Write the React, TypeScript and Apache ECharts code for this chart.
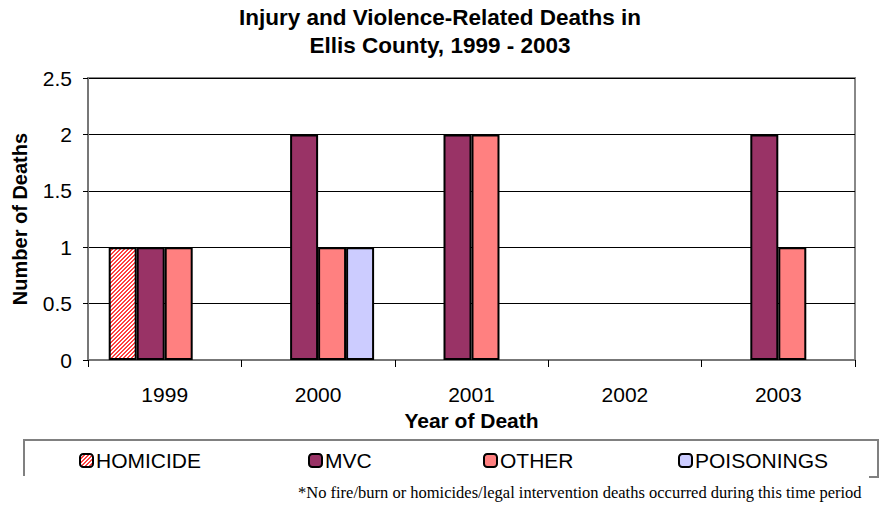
import React, { useEffect, useRef } from "react";
import * as echarts from "echarts";

const years = ["1999", "2000", "2001", "2002", "2003"];
const homicide = [1, 0, 0, 0, 0];
const mvc = [1, 2, 2, 0, 2];
const other = [1, 1, 2, 0, 1];
const poisonings = [0, 1, 0, 0, 0];
const yTicks = { min: 0, max: 2.5, interval: 0.5 };

const FONT = "'Liberation Sans', Arial, sans-serif";

function makeHatch() {
  const c = document.createElement("canvas");
  c.width = 4;
  c.height = 4;
  const ctx = c.getContext("2d")!;
  ctx.fillStyle = "#ffffff";
  ctx.fillRect(0, 0, 4, 4);
  ctx.fillStyle = "#ff4040";
  for (let y = 0; y < 4; y++) {
    for (let x = 0; x < 4; x++) {
      if ((x + y) % 4 === 0 || (x + y) % 4 === 1) ctx.fillRect(x, y, 1, 1);
    }
  }
  return c;
}

const nz = (a: number[]) => a.map((v) => (v === 0 ? "-" : v));

export default function App() {
  const ref = useRef<HTMLDivElement>(null);
  useEffect(() => {
    if (!ref.current) return;
    const chart = echarts.init(ref.current, null, { renderer: "svg" });
    const hatch = makeHatch();
    const bar = (name: string, data: number[], color: any) => ({
      name,
      type: "bar",
      data: nz(data),
      barGap: "0%",
      barCategoryGap: "27%",
      itemStyle: { color, borderColor: "#000", borderWidth: 2 },
    });
    const legend = (name: string, left: number) => ({
      data: [name],
      left,
      top: 450,
      itemWidth: 13,
      itemHeight: 13,
      itemGap: 3,
      padding: 0,
      selectedMode: false,
      textStyle: { fontFamily: FONT, fontSize: 21, color: "#000", padding: [0, 0, 0, -2] },
    });
    chart.setOption({
      animation: false,
      backgroundColor: "#fff",
      title: {
        text: "Injury and Violence-Related Deaths in\nEllis County, 1999 - 2003",
        left: 440,
        textAlign: "center",
        top: 3,
        padding: 0,
        textStyle: { fontFamily: FONT, fontSize: 22.5, fontWeight: "bold", color: "#000", lineHeight: 28 },
      },
      grid: { left: 88, right: 25, top: 78, bottom: 150, show: true, borderColor: "#888", borderWidth: 2 },
      legend: [legend("HOMICIDE", 79), legend("MVC", 308), legend("OTHER", 483), legend("POISONINGS", 678)],
      xAxis: {
        type: "category",
        data: years,
        name: "Year of Death",
        nameLocation: "middle",
        nameGap: 50,
        nameTextStyle: { fontFamily: FONT, fontSize: 21, fontWeight: "bold", color: "#000" },
        axisLine: { lineStyle: { color: "#777", width: 2 } },
        axisTick: { show: true, length: 7, lineStyle: { color: "#000", width: 1 } },
        axisLabel: { fontFamily: FONT, fontSize: 21, color: "#000", margin: 24 },
      },
      yAxis: {
        type: "value",
        ...yTicks,
        name: "Number of Deaths",
        nameLocation: "middle",
        nameGap: 58,
        nameTextStyle: { fontFamily: FONT, fontSize: 20, fontWeight: "bold", color: "#000" },
        axisLine: { show: true, lineStyle: { color: "#777", width: 2 } },
        axisTick: { show: true, length: 5, lineStyle: { color: "#000", width: 1 } },
        axisLabel: { fontFamily: FONT, fontSize: 21, color: "#000", margin: 16 },
        splitLine: { lineStyle: { color: "#000", width: 1 } },
      },
      series: [
        bar("HOMICIDE", homicide, { image: hatch, repeat: "repeat" }),
        bar("MVC", mvc, "#993366"),
        bar("OTHER", other, "#ff8080"),
        bar("POISONINGS", poisonings, "#ccccff"),
      ],
      graphic: [
        {
          type: "polyline",
          shape: { points: [[24, 476], [24, 440], [878, 440], [878, 477], [869, 477]] },
          style: { stroke: "#808080", lineWidth: 2, fill: "none" },
          silent: true,
        },
        {
          type: "text",
          left: 298,
          top: 484,
          style: {
            text: "*No fire/burn or homicides/legal intervention deaths occurred during this time period",
            fontFamily: "'Liberation Serif', 'Times New Roman', serif",
            fontSize: 16.5,
            fill: "#000",
          },
        },
      ],
    });
    return () => chart.dispose();
  }, []);
  return <div ref={ref} style={{ width: 880, height: 510, position: "absolute", left: 0, top: 0 }} />;
}
